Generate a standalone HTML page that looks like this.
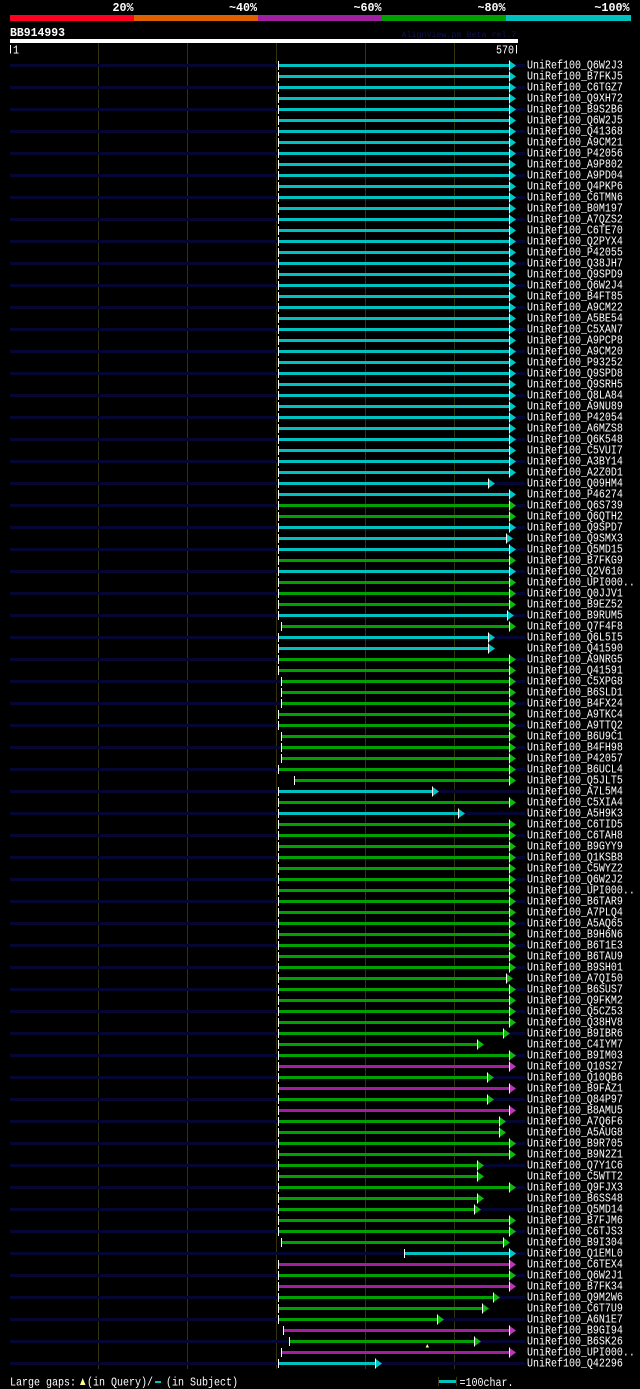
<!DOCTYPE html>
<html><head><meta charset="utf-8"><style>
html,body{margin:0;padding:0;background:#000;}
svg{display:block;}
</style></head><body>
<svg width="640" height="1389" viewBox="0 0 640 1389" xmlns="http://www.w3.org/2000/svg">
<defs>
<g id="t"><rect x="0" y="-4.5" width="1" height="9" fill="#fff"/></g>
<g id="ac"><polygon points="0,-5 7,0 0,5" fill="#00c8c8"/><rect x="0" y="-5" width="1" height="10" fill="#fff"/></g>
<g id="ag"><polygon points="0,-5 7,0 0,5" fill="#10b810"/><rect x="0" y="-5" width="1" height="10" fill="#fff"/></g>
<g id="am"><polygon points="0,-5 7,0 0,5" fill="#b838b8"/><rect x="0" y="-5" width="1" height="10" fill="#fff"/></g>
<g id="fc"><rect x="279" y="64" width="230" height="3" fill="#00c0c0"/><use href="#t" x="278" y="65.5"/><use href="#ac" x="509" y="65.5"/></g>
<g id="fg"><rect x="279" y="64" width="230" height="3" fill="#00a000"/><use href="#t" x="278" y="65.5"/><use href="#ag" x="509" y="65.5"/></g>
<g id="fm"><rect x="279" y="64" width="230" height="3" fill="#a020a0"/><use href="#t" x="278" y="65.5"/><use href="#am" x="509" y="65.5"/></g>
<pattern id="nv" patternUnits="userSpaceOnUse" x="0" y="64" width="640" height="22"><rect x="0" y="0" width="640" height="3" fill="#060632"/></pattern>
</defs>
<rect x="0" y="0" width="640" height="1389" fill="#000"/>

<rect x="10" y="15" width="124" height="6" fill="#ff0020"/>
<rect x="134" y="15" width="124" height="6" fill="#e06000"/>
<rect x="258" y="15" width="124" height="6" fill="#a020a0"/>
<rect x="382" y="15" width="124" height="6" fill="#00a000"/>
<rect x="506" y="15" width="125" height="6" fill="#00c0c0"/>
<g font-family="'Liberation Mono', monospace" font-weight="bold" font-size="11.7" fill="#fff" text-anchor="end">
<text x="133.5" y="11">20%</text>
<text x="257" y="11">~40%</text>
<text x="381.5" y="11">~60%</text>
<text x="505.5" y="11">~80%</text>
<text x="629.5" y="11">~100%</text>
</g>
<text x="10" y="36" font-family="'Liberation Mono', monospace" font-weight="bold" font-size="11.7" fill="#fff" textLength="55" lengthAdjust="spacingAndGlyphs">BB914993</text>
<text x="401.5" y="37" font-family="'Liberation Mono', monospace" font-size="8.4" fill="#12124e" textLength="115" lengthAdjust="spacingAndGlyphs">AlignView.pm Beta rel.7</text>
<rect x="10" y="39" width="508" height="4" fill="#fff"/>
<rect x="10" y="45" width="1" height="8.5" fill="#fff"/>
<text x="13" y="53.3" font-family="'Liberation Mono', monospace" font-size="12" fill="#fff" textLength="6" lengthAdjust="spacingAndGlyphs">1</text>
<text x="496" y="53.3" font-family="'Liberation Mono', monospace" font-size="12" fill="#fff" textLength="18" lengthAdjust="spacingAndGlyphs">570</text>
<rect x="516" y="45" width="1" height="8.5" fill="#fff"/>

<g fill="#32320f">
<rect x="98" y="43" width="1" height="1326"/>
<rect x="187" y="43" width="1" height="1326"/>
<rect x="276" y="43" width="1" height="1326"/>
<rect x="365" y="43" width="1" height="1326"/>
<rect x="454" y="43" width="1" height="1326"/>
</g>

<rect x="10" y="64" width="515" height="1302" fill="url(#nv)"/>

<use href="#fc" y="0"/>
<use href="#fc" y="11"/>
<use href="#fc" y="22"/>
<use href="#fc" y="33"/>
<use href="#fc" y="44"/>
<use href="#fc" y="55"/>
<use href="#fc" y="66"/>
<use href="#fc" y="77"/>
<use href="#fc" y="88"/>
<use href="#fc" y="99"/>
<use href="#fc" y="110"/>
<use href="#fc" y="121"/>
<use href="#fc" y="132"/>
<use href="#fc" y="143"/>
<use href="#fc" y="154"/>
<use href="#fc" y="165"/>
<use href="#fc" y="176"/>
<use href="#fc" y="187"/>
<use href="#fc" y="198"/>
<use href="#fc" y="209"/>
<use href="#fc" y="220"/>
<use href="#fc" y="231"/>
<use href="#fc" y="242"/>
<use href="#fc" y="253"/>
<use href="#fc" y="264"/>
<use href="#fc" y="275"/>
<use href="#fc" y="286"/>
<use href="#fc" y="297"/>
<use href="#fc" y="308"/>
<use href="#fc" y="319"/>
<use href="#fc" y="330"/>
<use href="#fc" y="341"/>
<use href="#fc" y="352"/>
<use href="#fc" y="363"/>
<use href="#fc" y="374"/>
<use href="#fc" y="385"/>
<use href="#fc" y="396"/>
<use href="#fc" y="407"/>
<g transform="translate(0,418)"><rect x="279" y="64" width="209" height="3" fill="#00c0c0"/><use href="#t" x="278" y="65.5"/><use href="#ac" x="488" y="65.5"/></g>
<use href="#fc" y="429"/>
<use href="#fg" y="440"/>
<use href="#fg" y="451"/>
<use href="#fc" y="462"/>
<g transform="translate(0,473)"><rect x="279" y="64" width="227" height="3" fill="#00c0c0"/><use href="#t" x="278" y="65.5"/><use href="#ac" x="506" y="65.5"/></g>
<use href="#fc" y="484"/>
<use href="#fg" y="495"/>
<use href="#fc" y="506"/>
<use href="#fg" y="517"/>
<use href="#fg" y="528"/>
<use href="#fg" y="539"/>
<g transform="translate(0,550)"><rect x="279" y="64" width="228" height="3" fill="#00c0c0"/><use href="#t" x="278" y="65.5"/><use href="#ac" x="507" y="65.5"/></g>
<g transform="translate(0,561)"><rect x="282" y="64" width="227" height="3" fill="#00a000"/><use href="#t" x="281" y="65.5"/><use href="#ag" x="509" y="65.5"/></g>
<g transform="translate(0,572)"><rect x="279" y="64" width="209" height="3" fill="#00c0c0"/><use href="#t" x="278" y="65.5"/><use href="#ac" x="488" y="65.5"/></g>
<g transform="translate(0,583)"><rect x="279" y="64" width="209" height="3" fill="#00c0c0"/><use href="#t" x="278" y="65.5"/><use href="#ac" x="488" y="65.5"/></g>
<use href="#fg" y="594"/>
<use href="#fg" y="605"/>
<g transform="translate(0,616)"><rect x="282" y="64" width="227" height="3" fill="#00a000"/><use href="#t" x="281" y="65.5"/><use href="#ag" x="509" y="65.5"/></g>
<g transform="translate(0,627)"><rect x="282" y="64" width="227" height="3" fill="#00a000"/><use href="#t" x="281" y="65.5"/><use href="#ag" x="509" y="65.5"/></g>
<g transform="translate(0,638)"><rect x="282" y="64" width="227" height="3" fill="#00a000"/><use href="#t" x="281" y="65.5"/><use href="#ag" x="509" y="65.5"/></g>
<use href="#fg" y="649"/>
<use href="#fg" y="660"/>
<g transform="translate(0,671)"><rect x="282" y="64" width="227" height="3" fill="#00a000"/><use href="#t" x="281" y="65.5"/><use href="#ag" x="509" y="65.5"/></g>
<g transform="translate(0,682)"><rect x="282" y="64" width="227" height="3" fill="#00a000"/><use href="#t" x="281" y="65.5"/><use href="#ag" x="509" y="65.5"/></g>
<g transform="translate(0,693)"><rect x="282" y="64" width="227" height="3" fill="#00a000"/><use href="#t" x="281" y="65.5"/><use href="#ag" x="509" y="65.5"/></g>
<use href="#fg" y="704"/>
<g transform="translate(0,715)"><rect x="295" y="64" width="214" height="3" fill="#00a000"/><use href="#t" x="294" y="65.5"/><use href="#ag" x="509" y="65.5"/></g>
<g transform="translate(0,726)"><rect x="279" y="64" width="153" height="3" fill="#00c0c0"/><use href="#t" x="278" y="65.5"/><use href="#ac" x="432" y="65.5"/></g>
<use href="#fg" y="737"/>
<g transform="translate(0,748)"><rect x="279" y="64" width="179" height="3" fill="#00c0c0"/><use href="#t" x="278" y="65.5"/><use href="#ac" x="458" y="65.5"/></g>
<use href="#fg" y="759"/>
<use href="#fg" y="770"/>
<use href="#fg" y="781"/>
<use href="#fg" y="792"/>
<use href="#fg" y="803"/>
<use href="#fg" y="814"/>
<use href="#fg" y="825"/>
<use href="#fg" y="836"/>
<use href="#fg" y="847"/>
<use href="#fg" y="858"/>
<use href="#fg" y="869"/>
<use href="#fg" y="880"/>
<use href="#fg" y="891"/>
<use href="#fg" y="902"/>
<g transform="translate(0,913)"><rect x="279" y="64" width="227" height="3" fill="#00a000"/><use href="#t" x="278" y="65.5"/><use href="#ag" x="506" y="65.5"/></g>
<use href="#fg" y="924"/>
<use href="#fg" y="935"/>
<use href="#fg" y="946"/>
<use href="#fg" y="957"/>
<g transform="translate(0,968)"><rect x="279" y="64" width="224" height="3" fill="#00a000"/><use href="#t" x="278" y="65.5"/><use href="#ag" x="503" y="65.5"/></g>
<g transform="translate(0,979)"><rect x="279" y="64" width="198" height="3" fill="#00a000"/><use href="#t" x="278" y="65.5"/><use href="#ag" x="477" y="65.5"/></g>
<use href="#fg" y="990"/>
<use href="#fm" y="1001"/>
<g transform="translate(0,1012)"><rect x="279" y="64" width="208" height="3" fill="#00a000"/><use href="#t" x="278" y="65.5"/><use href="#ag" x="487" y="65.5"/></g>
<use href="#fm" y="1023"/>
<g transform="translate(0,1034)"><rect x="279" y="64" width="208" height="3" fill="#00a000"/><use href="#t" x="278" y="65.5"/><use href="#ag" x="487" y="65.5"/></g>
<use href="#fm" y="1045"/>
<g transform="translate(0,1056)"><rect x="279" y="64" width="220" height="3" fill="#00a000"/><use href="#t" x="278" y="65.5"/><use href="#ag" x="499" y="65.5"/></g>
<g transform="translate(0,1067)"><rect x="279" y="64" width="220" height="3" fill="#00a000"/><use href="#t" x="278" y="65.5"/><use href="#ag" x="499" y="65.5"/></g>
<use href="#fg" y="1078"/>
<use href="#fg" y="1089"/>
<g transform="translate(0,1100)"><rect x="279" y="64" width="198" height="3" fill="#00a000"/><use href="#t" x="278" y="65.5"/><use href="#ag" x="477" y="65.5"/></g>
<g transform="translate(0,1111)"><rect x="279" y="64" width="198" height="3" fill="#00a000"/><use href="#t" x="278" y="65.5"/><use href="#ag" x="477" y="65.5"/></g>
<use href="#fg" y="1122"/>
<g transform="translate(0,1133)"><rect x="279" y="64" width="198" height="3" fill="#00a000"/><use href="#t" x="278" y="65.5"/><use href="#ag" x="477" y="65.5"/></g>
<g transform="translate(0,1144)"><rect x="279" y="64" width="195" height="3" fill="#00a000"/><use href="#t" x="278" y="65.5"/><use href="#ag" x="474" y="65.5"/></g>
<use href="#fg" y="1155"/>
<use href="#fg" y="1166"/>
<g transform="translate(0,1177)"><rect x="282" y="64" width="221" height="3" fill="#00a000"/><use href="#t" x="281" y="65.5"/><use href="#ag" x="503" y="65.5"/></g>
<g transform="translate(0,1188)"><rect x="405" y="64" width="104" height="3" fill="#00c0c0"/><use href="#t" x="404" y="65.5"/><use href="#ac" x="509" y="65.5"/></g>
<use href="#fm" y="1199"/>
<use href="#fg" y="1210"/>
<use href="#fm" y="1221"/>
<g transform="translate(0,1232)"><rect x="279" y="64" width="214" height="3" fill="#00a000"/><use href="#t" x="278" y="65.5"/><use href="#ag" x="493" y="65.5"/></g>
<g transform="translate(0,1243)"><rect x="279" y="64" width="203" height="3" fill="#00a000"/><use href="#t" x="278" y="65.5"/><use href="#ag" x="482" y="65.5"/></g>
<g transform="translate(0,1254)"><rect x="279" y="64" width="158" height="3" fill="#00a000"/><use href="#t" x="278" y="65.5"/><use href="#ag" x="437" y="65.5"/></g>
<g transform="translate(0,1265)"><rect x="284" y="64" width="225" height="3" fill="#a020a0"/><use href="#t" x="283" y="65.5"/><use href="#am" x="509" y="65.5"/></g>
<g transform="translate(0,1276)"><rect x="290" y="64" width="184" height="3" fill="#00a000"/><use href="#t" x="289" y="65.5"/><use href="#ag" x="474" y="65.5"/></g>
<polygon points="427.3,1344 425.6,1347.5 429,1347.5" fill="#ffff80"/>
<g transform="translate(0,1287)"><rect x="282" y="64" width="227" height="3" fill="#a020a0"/><use href="#t" x="281" y="65.5"/><use href="#am" x="509" y="65.5"/></g>
<g transform="translate(0,1298)"><rect x="279" y="64" width="96" height="3" fill="#00c0c0"/><use href="#t" x="278" y="65.5"/><use href="#ac" x="375" y="65.5"/></g>

<g font-family="'Liberation Mono', monospace" font-size="12" fill="#fff" transform="translate(527,0) scale(0.8333,1)">
<text x="0" y="68.5">UniRef100_Q6W2J3</text>
<text x="0" y="79.5">UniRef100_B7FKJ5</text>
<text x="0" y="90.5">UniRef100_C6TGZ7</text>
<text x="0" y="101.5">UniRef100_Q9XH72</text>
<text x="0" y="112.5">UniRef100_B9S2B6</text>
<text x="0" y="123.5">UniRef100_Q6W2J5</text>
<text x="0" y="134.5">UniRef100_Q41368</text>
<text x="0" y="145.5">UniRef100_A9CM21</text>
<text x="0" y="156.5">UniRef100_P42056</text>
<text x="0" y="167.5">UniRef100_A9P802</text>
<text x="0" y="178.5">UniRef100_A9PD04</text>
<text x="0" y="189.5">UniRef100_Q4PKP6</text>
<text x="0" y="200.5">UniRef100_C6TMN6</text>
<text x="0" y="211.5">UniRef100_B0M197</text>
<text x="0" y="222.5">UniRef100_A7QZS2</text>
<text x="0" y="233.5">UniRef100_C6TE70</text>
<text x="0" y="244.5">UniRef100_Q2PYX4</text>
<text x="0" y="255.5">UniRef100_P42055</text>
<text x="0" y="266.5">UniRef100_Q38JH7</text>
<text x="0" y="277.5">UniRef100_Q9SPD9</text>
<text x="0" y="288.5">UniRef100_Q6W2J4</text>
<text x="0" y="299.5">UniRef100_B4FT85</text>
<text x="0" y="310.5">UniRef100_A9CM22</text>
<text x="0" y="321.5">UniRef100_A5BE54</text>
<text x="0" y="332.5">UniRef100_C5XAN7</text>
<text x="0" y="343.5">UniRef100_A9PCP8</text>
<text x="0" y="354.5">UniRef100_A9CM20</text>
<text x="0" y="365.5">UniRef100_P93252</text>
<text x="0" y="376.5">UniRef100_Q9SPD8</text>
<text x="0" y="387.5">UniRef100_Q9SRH5</text>
<text x="0" y="398.5">UniRef100_Q8LA84</text>
<text x="0" y="409.5">UniRef100_A9NU89</text>
<text x="0" y="420.5">UniRef100_P42054</text>
<text x="0" y="431.5">UniRef100_A6MZS8</text>
<text x="0" y="442.5">UniRef100_Q6K548</text>
<text x="0" y="453.5">UniRef100_C5VUI7</text>
<text x="0" y="464.5">UniRef100_A3BY14</text>
<text x="0" y="475.5">UniRef100_A2Z0D1</text>
<text x="0" y="486.5">UniRef100_Q09HM4</text>
<text x="0" y="497.5">UniRef100_P46274</text>
<text x="0" y="508.5">UniRef100_Q6S739</text>
<text x="0" y="519.5">UniRef100_Q6QTH2</text>
<text x="0" y="530.5">UniRef100_Q9SPD7</text>
<text x="0" y="541.5">UniRef100_Q9SMX3</text>
<text x="0" y="552.5">UniRef100_Q5MD15</text>
<text x="0" y="563.5">UniRef100_B7FKG9</text>
<text x="0" y="574.5">UniRef100_Q2V610</text>
<text x="0" y="585.5">UniRef100_UPI000..</text>
<text x="0" y="596.5">UniRef100_Q0JJV1</text>
<text x="0" y="607.5">UniRef100_B9EZ52</text>
<text x="0" y="618.5">UniRef100_B9RUM5</text>
<text x="0" y="629.5">UniRef100_Q7F4F8</text>
<text x="0" y="640.5">UniRef100_Q6L5I5</text>
<text x="0" y="651.5">UniRef100_Q41590</text>
<text x="0" y="662.5">UniRef100_A9NRG5</text>
<text x="0" y="673.5">UniRef100_Q41591</text>
<text x="0" y="684.5">UniRef100_C5XPG8</text>
<text x="0" y="695.5">UniRef100_B6SLD1</text>
<text x="0" y="706.5">UniRef100_B4FX24</text>
<text x="0" y="717.5">UniRef100_A9TKC4</text>
<text x="0" y="728.5">UniRef100_A9TTQ2</text>
<text x="0" y="739.5">UniRef100_B6U9C1</text>
<text x="0" y="750.5">UniRef100_B4FH98</text>
<text x="0" y="761.5">UniRef100_P42057</text>
<text x="0" y="772.5">UniRef100_B6UCL4</text>
<text x="0" y="783.5">UniRef100_Q5JLT5</text>
<text x="0" y="794.5">UniRef100_A7L5M4</text>
<text x="0" y="805.5">UniRef100_C5XIA4</text>
<text x="0" y="816.5">UniRef100_A5H9K3</text>
<text x="0" y="827.5">UniRef100_C6TID5</text>
<text x="0" y="838.5">UniRef100_C6TAH8</text>
<text x="0" y="849.5">UniRef100_B9GYY9</text>
<text x="0" y="860.5">UniRef100_Q1KSB8</text>
<text x="0" y="871.5">UniRef100_C5WYZ2</text>
<text x="0" y="882.5">UniRef100_Q6W2J2</text>
<text x="0" y="893.5">UniRef100_UPI000..</text>
<text x="0" y="904.5">UniRef100_B6TAR9</text>
<text x="0" y="915.5">UniRef100_A7PLQ4</text>
<text x="0" y="926.5">UniRef100_A5AQ65</text>
<text x="0" y="937.5">UniRef100_B9H6N6</text>
<text x="0" y="948.5">UniRef100_B6T1E3</text>
<text x="0" y="959.5">UniRef100_B6TAU9</text>
<text x="0" y="970.5">UniRef100_B9SH01</text>
<text x="0" y="981.5">UniRef100_A7QI50</text>
<text x="0" y="992.5">UniRef100_B6SUS7</text>
<text x="0" y="1003.5">UniRef100_Q9FKM2</text>
<text x="0" y="1014.5">UniRef100_Q5CZ53</text>
<text x="0" y="1025.5">UniRef100_Q38HV8</text>
<text x="0" y="1036.5">UniRef100_B9IBR6</text>
<text x="0" y="1047.5">UniRef100_C4IYM7</text>
<text x="0" y="1058.5">UniRef100_B9IM03</text>
<text x="0" y="1069.5">UniRef100_Q10S27</text>
<text x="0" y="1080.5">UniRef100_Q10QB6</text>
<text x="0" y="1091.5">UniRef100_B9FAZ1</text>
<text x="0" y="1102.5">UniRef100_Q84P97</text>
<text x="0" y="1113.5">UniRef100_B8AMU5</text>
<text x="0" y="1124.5">UniRef100_A7Q6F6</text>
<text x="0" y="1135.5">UniRef100_A5AUG8</text>
<text x="0" y="1146.5">UniRef100_B9R705</text>
<text x="0" y="1157.5">UniRef100_B9N2Z1</text>
<text x="0" y="1168.5">UniRef100_Q7Y1C6</text>
<text x="0" y="1179.5">UniRef100_C5WTT2</text>
<text x="0" y="1190.5">UniRef100_Q9FJX3</text>
<text x="0" y="1201.5">UniRef100_B6SS48</text>
<text x="0" y="1212.5">UniRef100_Q5MD14</text>
<text x="0" y="1223.5">UniRef100_B7FJM6</text>
<text x="0" y="1234.5">UniRef100_C6TJS3</text>
<text x="0" y="1245.5">UniRef100_B9I304</text>
<text x="0" y="1256.5">UniRef100_Q1EML0</text>
<text x="0" y="1267.5">UniRef100_C6TEX4</text>
<text x="0" y="1278.5">UniRef100_Q6W2J1</text>
<text x="0" y="1289.5">UniRef100_B7FK34</text>
<text x="0" y="1300.5">UniRef100_Q9M2W6</text>
<text x="0" y="1311.5">UniRef100_C6T7U9</text>
<text x="0" y="1322.5">UniRef100_A6N1E7</text>
<text x="0" y="1333.5">UniRef100_B9GI94</text>
<text x="0" y="1344.5">UniRef100_B6SK26</text>
<text x="0" y="1355.5">UniRef100_UPI000..</text>
<text x="0" y="1366.5">UniRef100_Q42296</text>
</g>

<g font-family="'Liberation Mono', monospace" font-size="12" fill="#fff">
<text x="10" y="1385.5" textLength="66" lengthAdjust="spacingAndGlyphs">Large gaps:</text>
<text x="87" y="1385.5" textLength="66" lengthAdjust="spacingAndGlyphs">(in Query)/</text>
<text x="166" y="1385.5" textLength="72" lengthAdjust="spacingAndGlyphs">(in Subject)</text>
<text x="459.5" y="1386" textLength="54" lengthAdjust="spacingAndGlyphs">=100char.</text>
</g>
<polygon points="82.7,1378 80,1385 85.5,1385" fill="#ffff90"/>
<rect x="155" y="1381" width="6" height="2" fill="#00c0c0"/>
<rect x="438" y="1377" width="1" height="9" fill="#3a3a12"/>
<rect x="439" y="1380" width="17" height="3" fill="#00c0c0"/>
<rect x="456" y="1377" width="1" height="9" fill="#3a3a12"/>
</svg>
</body></html>
